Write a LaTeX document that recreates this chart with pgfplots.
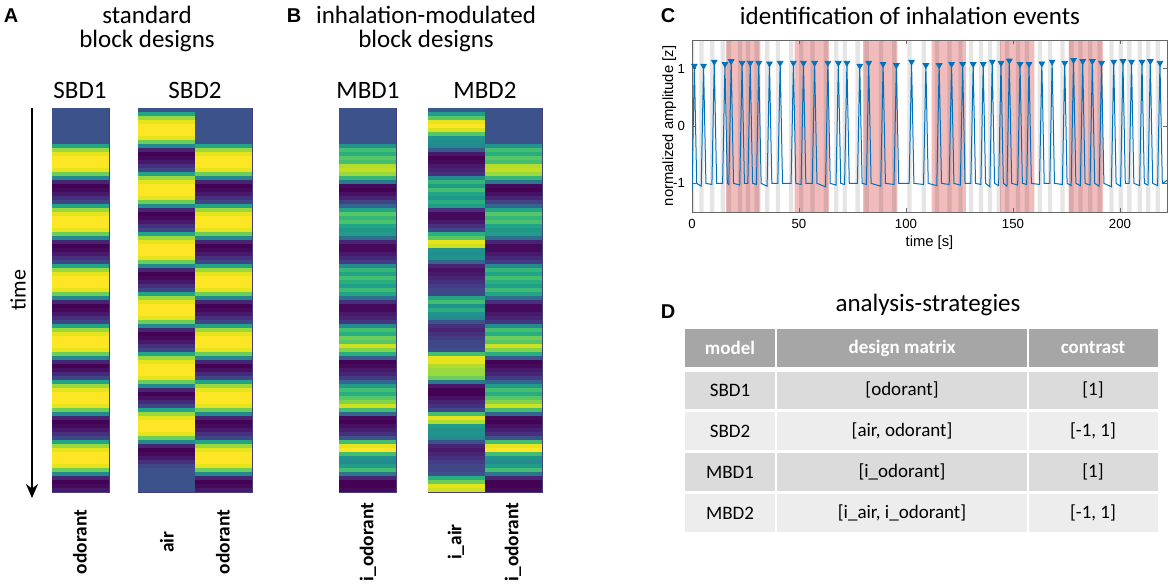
\documentclass[border=0pt]{standalone}
\usepackage{fontspec}
\setmainfont{Carlito}
\newfontfamily\arial{Liberation Sans}
\usepackage{pgfplots}
\pgfplotsset{compat=1.18}
\usepackage{pgfplotstable}
\usetikzlibrary{arrows.meta}

\newcommand\fs[1]{\fontsize{#1}{#1}\selectfont}

% one heatmap cell: 28.5pt wide, 2pt high (plus a hair of overlap)
\pgfdeclareplotmark{cell}{%
  \pgfpathrectangle{\pgfqpoint{-14.25pt}{-1.12pt}}{\pgfqpoint{28.5pt}{2.24pt}}%
  \pgfusepathqfill}

\definecolor{mblue}{rgb}{0,0.447,0.741}
\definecolor{odorred}{RGB}{242,188,188}
\definecolor{hdr}{RGB}{166,166,166}
\definecolor{rowA}{RGB}{219,219,219}
\definecolor{rowB}{RGB}{237,237,237}
\definecolor{hmline}{RGB}{70,62,120}

% design matrices, one row per scan (top = start of run)
% so = odorant (SBD), sa = air (SBD), mo = i_odorant (MBD), ma = i_air (MBD)
\pgfplotstableread{
r so sa mo ma
0 0 0 0 0.05
1 0 0.45 0 0.4
2 0 0.8 0 0.65
3 0 0.95 0 0.95
4 0 1 0 1
5 0 1 0 0.92
6 0 1 0 0.65
7 0 0.95 0 0.35
8 0 0.7 0 0.33
9 0.45 0.3 0.35 0.3
10 0.8 -0.2 0.6 0.05
11 0.95 -0.33 0.5 -0.25
12 1 -0.3 0.65 -0.33
13 1 -0.25 0.6 -0.3
14 1 -0.15 0.85 -0.25
15 0.95 -0.05 0.88 -0.2
16 0.7 0.45 0.8 -0.15
17 0.3 0.8 0.55 0.3
18 -0.2 0.95 0.2 0.55
19 -0.33 1 -0.3 0.4
20 -0.3 1 -0.33 0.6
21 -0.25 1 -0.28 0.45
22 -0.15 0.95 -0.2 0.38
23 -0.05 0.7 -0.08 0.5
24 0.45 0.3 0.1 0.4
25 0.8 -0.2 0.45 -0.15
26 0.95 -0.33 0.65 -0.3
27 1 -0.3 0.55 -0.3
28 1 -0.25 0.62 -0.25
29 1 -0.15 0.45 -0.15
30 0.95 -0.05 0.38 -0.05
31 0.7 0.45 0.4 0.5
32 0.3 0.8 0.15 0.65
33 -0.2 0.95 -0.2 0.95
34 -0.33 1 -0.3 0.9
35 -0.3 1 -0.3 0.35
36 -0.25 1 -0.25 0.32
37 -0.15 0.95 -0.18 0.35
38 -0.05 0.7 -0.1 0.1
39 0.45 0.3 0.3 -0.2
40 0.8 -0.2 0.55 -0.28
41 0.95 -0.33 0.45 -0.25
42 1 -0.3 0.6 -0.2
43 1 -0.25 0.5 -0.15
44 1 -0.15 0.42 -0.1
45 0.95 -0.05 0.58 -0.05
46 0.7 0.45 0.45 -0.05
47 0.3 0.8 0.15 0.45
48 -0.2 0.95 -0.15 0.6
49 -0.33 1 -0.3 0.35
50 -0.3 1 -0.3 0.5
51 -0.25 1 -0.25 0.35
52 -0.15 0.95 -0.2 0.3
53 -0.05 0.7 -0.12 0.0
54 0.45 0.3 0.3 -0.15
55 0.8 -0.2 0.6 -0.2
56 0.95 -0.33 0.5 -0.15
57 1 -0.3 0.7 -0.1
58 1 -0.25 0.65 -0.05
59 1 -0.15 0.9 -0.05
60 0.95 -0.05 0.75 -0.02
61 0.7 0.45 0.5 0.6
62 0.3 0.8 0.05 0.95
63 -0.2 0.95 -0.33 0.95
64 -0.33 1 -0.3 0.85
65 -0.28 1 -0.25 0.8
66 -0.18 1 -0.2 0.8
67 -0.05 0.95 -0.1 0.7
68 0.45 0.7 0.1 0.2
69 0.8 0.3 0.4 -0.25
70 0.95 -0.2 0.6 -0.33
71 1 -0.33 0.5 -0.33
72 1 -0.28 0.65 -0.28
73 1 -0.18 0.75 -0.2
74 0.95 -0.05 0.9 -0.15
75 0.7 0.45 0.6 -0.05
76 0.3 0.8 0.1 0.6
77 -0.2 0.95 -0.3 0.95
78 -0.33 1 -0.33 0.85
79 -0.3 1 -0.28 0.4
80 -0.25 1 -0.22 0.35
81 -0.15 0.95 -0.15 0.35
82 -0.05 0.7 0.0 0.3
83 0.45 0.3 0.6 0.0
84 0.8 -0.2 0.95 -0.2
85 0.95 -0.33 1.0 -0.25
86 1 -0.3 0.6 -0.2
87 1 -0.25 0.35 -0.15
88 1 -0.15 0.3 -0.1
89 0.95 -0.05 0.4 -0.05
90 0.7 0 0.6 -0.05
91 0.3 0 0.2 0.0
92 -0.2 0 -0.2 0.5
93 -0.33 0 -0.33 0.7
94 -0.3 0 -0.33 0.95
95 -0.25 0 -0.3 0.9
}\design

\pgfplotsset{
  hm/.style={scale only axis, anchor=north west, height=192pt,
    y dir=reverse, ymin=-0.5, ymax=95.5, xmin=-0.5,
    ticks=none, axis on top,
    axis line style={draw=hmline, line width=0.3pt},
    colormap/viridis, point meta min=-0.3333, point meta max=1},
  hmplot/.style={scatter, only marks, mark=cell, scatter src=explicit},
}

\begin{document}
\begin{tikzpicture}
\path[use as bounding box] (0,0) rectangle (585pt,-292.5pt);

% ---- A: standard block designs
\begin{axis}[hm, at={(26pt,-54pt)}, width=28.5pt, xmax=0.5]
\addplot[hmplot] table[x expr=0, y=r, meta=so] \design;
\end{axis}
\begin{axis}[hm, at={(69pt,-54pt)}, width=57pt, xmax=1.5]
\addplot[hmplot] table[x expr=0, y=r, meta=sa] \design;
\addplot[hmplot] table[x expr=1, y=r, meta=so] \design;
\end{axis}

% ---- B: inhalation-modulated block designs
\begin{axis}[hm, at={(169.5pt,-54pt)}, width=28.5pt, xmax=0.5]
\addplot[hmplot] table[x expr=0, y=r, meta=mo] \design;
\end{axis}
\begin{axis}[hm, at={(214pt,-54pt)}, width=57pt, xmax=1.5]
\addplot[hmplot] table[x expr=0, y=r, meta=ma] \design;
\addplot[hmplot] table[x expr=1, y=r, meta=mo] \design;
\end{axis}

% ---- C: background bands (odour blocks, inhalations)
\begin{axis}[at={(346pt,-20pt)}, anchor=north west, scale only axis,
  width=237.5pt, height=86pt, xmin=0, xmax=222, ymin=0, ymax=1, hide axis]
\addplot[ybar interval, fill=odorred, draw=none] coordinates {
(16,1)(32,0)(48,1)(64,0)(80,1)(96,0)(112,1)(128,0)(144,1)(160,0)(176,1)(192,0)(222,0)};
\addplot[ybar interval, fill=black, fill opacity=0.1, draw=none] coordinates {
(0,1)(1.1,0)(3.4,1)(5.4,0)(8.4,1)(10.4,0)(13.4,1)(15.4,0)(16.3,1)(18.3,0)
(21.4,1)(23.4,0)(25.2,1)(27.2,0)(29.2,1)(31.2,0)(34.2,1)(36.2,0)(39.2,1)(41.2,0)
(45.4,1)(47.4,0)(50.1,1)(52.1,0)(55.3,1)(57.3,0)(61.5,1)(63.5,0)(66.4,1)(68.4,0)
(70.4,1)(72.4,0)(76.4,1)(78.4,0)(80.6,1)(82.6,0)(87.3,1)(89.3,0)(93.5,1)(95.5,0)
(100.6,1)(102.6,0)(107.3,1)(109.3,0)(113.5,1)(115.5,0)(119.3,1)(121.3,0)
(124.5,1)(126.5,0)(129.4,1)(131.4,0)(134.1,1)(136.1,0)(138.3,1)(140.3,0)
(142.4,1)(144.4,0)(146.3,1)(148.3,0)(151.3,1)(153.3,0)(155.5,1)(157.5,0)
(161.5,1)(163.5,0)(166.3,1)(168.3,0)(172.2,1)(174.2,0)(176.3,1)(178.3,0)
(180.6,1)(182.6,0)(185.1,1)(187.1,0)(189.4,1)(191.4,0)(195.1,1)(197.1,0)
(199.4,1)(201.4,0)(203.4,1)(205.4,0)(208.3,1)(210.3,0)(212.2,1)(214.2,0)
(216.7,1)(218.7,0)(222,0)};
\end{axis}

% ---- C: breathing trace with detected peaks
\begin{axis}[at={(346pt,-20pt)}, anchor=north west, scale only axis,
  width=237.5pt, height=86pt, xmin=0, xmax=222, ymin=-1.5, ymax=1.5,
  xtick={0,50,100,150,200}, xticklabels={0,50,100,150,200},
  ytick={-1,0,1}, yticklabels={-1,0,1},
  tick align=inside, major tick length=2.2pt,
  axis line style={draw=black!60, line width=0.4pt},
  every tick/.style={black!60, line width=0.4pt},
  ticklabel style={font=\arial\fs{6.6pt}},
  xlabel={time [s]}, ylabel={normalized amplitude [z]},
  label style={font=\arial\fs{7.4pt}},
  xlabel style={at={(axis description cs:0.5,-0.18)}, anchor=center},
  ylabel style={at={(axis description cs:-0.048,0.5)}, anchor=center}]
\addplot[mblue, line width=0.5pt, mark=none] coordinates {
(0,-1.12)(1.1,1.05)(2.2,-1.0)
(4.3,-1.05)(5.4,1.05)(6.5,-1.0)
(9.3,-1.02)(10.4,1.12)(11.5,-1.0)
(14.3,-1.0)(15.4,1.08)(16.5,-1.0)
(17.2,-1.02)(18.3,1.13)(19.4,-1.0)
(22.3,-1.03)(23.4,1.10)(24.5,-1.0)
(26.1,-1.0)(27.2,1.10)(28.3,-1.0)
(30.1,-1.02)(31.2,1.10)(32.3,-1.0)
(35.1,-1.05)(36.2,1.09)(37.3,-1.0)
(40.1,-1.0)(41.2,1.10)(42.3,-1.0)
(46.3,-1.0)(47.4,1.10)(48.5,-1.0)
(51.0,-1.02)(52.1,1.10)(53.2,-1.0)
(56.2,-1.0)(57.3,1.10)(58.4,-1.0)
(62.4,-1.06)(63.5,1.10)(64.6,-1.0)
(67.3,-1.03)(68.4,1.10)(69.5,-1.0)
(71.3,-1.02)(72.4,1.10)(73.5,-1.0)
(77.3,-1.0)(78.4,1.05)(79.5,-1.0)
(81.5,-1.02)(82.6,1.10)(83.7,-1.0)
(88.2,-1.05)(89.3,1.08)(90.4,-1.0)
(94.4,-1.02)(95.5,1.06)(96.6,-1.0)
(101.5,-1.0)(102.6,1.12)(103.7,-1.0)
(108.2,-1.02)(109.3,1.06)(110.4,-1.0)
(114.4,-1.04)(115.5,1.06)(116.6,-1.0)
(120.2,-1.02)(121.3,1.08)(122.4,-1.0)
(125.4,-1.03)(126.5,1.08)(127.6,-1.0)
(130.3,-1.0)(131.4,1.08)(132.5,-1.0)
(135.0,-1.02)(136.1,1.08)(137.2,-1.0)
(139.2,-1.06)(140.3,1.12)(141.4,-1.0)
(143.3,-1.04)(144.4,1.10)(145.5,-1.0)
(147.2,-1.05)(148.3,1.14)(149.4,-1.0)
(152.2,-1.03)(153.3,1.08)(154.4,-1.0)
(156.4,-1.02)(157.5,1.08)(158.6,-1.0)
(162.4,-1.02)(163.5,1.09)(164.6,-1.0)
(167.2,-1.0)(168.3,1.12)(169.4,-1.0)
(173.1,-1.02)(174.2,1.10)(175.3,-1.0)
(177.2,-1.04)(178.3,1.15)(179.4,-1.0)
(181.5,-1.04)(182.6,1.13)(183.7,-1.0)
(186.0,-1.03)(187.1,1.13)(188.2,-1.0)
(190.3,-1.05)(191.4,1.10)(192.5,-1.0)
(196.0,-1.06)(197.1,1.12)(198.2,-1.0)
(200.3,-1.05)(201.4,1.13)(202.5,-1.0)
(204.3,-1.0)(205.4,1.12)(206.5,-1.0)
(209.2,-1.04)(210.3,1.12)(211.4,-1.0)
(213.1,-1.03)(214.2,1.13)(215.3,-1.0)
(217.6,-1.04)(218.7,1.10)(219.8,-1.0)
(222,-0.95)};
\addplot[only marks, mark=triangle*, mark size=1.6pt,
  mark options={rotate=180, fill=mblue, draw=mblue}] coordinates {
(1.1,1.05)(5.4,1.05)(10.4,1.12)(15.4,1.08)(18.3,1.13)(23.4,1.10)(27.2,1.10)
(31.2,1.10)(36.2,1.09)(41.2,1.10)(47.4,1.10)(52.1,1.10)(57.3,1.10)(63.5,1.10)
(68.4,1.10)(72.4,1.10)(78.4,1.05)(82.6,1.10)(89.3,1.08)(95.5,1.06)(102.6,1.12)
(109.3,1.06)(115.5,1.06)(121.3,1.08)(126.5,1.08)(131.4,1.08)(136.1,1.08)
(140.3,1.12)(144.4,1.10)(148.3,1.14)(153.3,1.08)(157.5,1.08)(163.5,1.09)
(168.3,1.12)(174.2,1.10)(178.3,1.15)(182.6,1.13)(187.1,1.13)(191.4,1.10)
(197.1,1.12)(201.4,1.13)(205.4,1.12)(210.3,1.12)(214.2,1.13)(218.7,1.10)};
\end{axis}

% ---- texts and table, in pixel units of the reference (y downwards)
\begin{scope}[x=0.5pt, y=-0.5pt]
\node[font=\arial\bfseries\fs{10pt}] at (11,16) {A};
\node[font=\arial\bfseries\fs{10pt}] at (294,16) {B};
\node[font=\arial\bfseries\fs{10pt}] at (668,16) {C};
\node[font=\arial\bfseries\fs{10pt}] at (668,312) {D};

\begin{scope}[every node/.style={font=\fs{12.5pt}, inner sep=0pt}]
\node at (147,15) {standard};
\node at (147,41) {block designs};
\node at (426,15) {inhalation-modulated};
\node at (426,41) {block designs};
\node at (80,90) {SBD1};
\node at (195,90) {SBD2};
\node at (368,90) {MBD1};
\node at (485,90) {MBD2};
\end{scope}

\draw[line width=0.8pt, -{Stealth[length=7pt, width=6pt]}] (32,108) -- (32,498);
\node[font=\fs{11pt}, rotate=90] at (18,290) {time};

\begin{scope}[every node/.style={font=\bfseries\fs{9.7pt}, rotate=90}]
\node at (80,542) {odorant};
\node at (167,542) {air};
\node at (223,542) {odorant};
\node at (368,542) {i\_odorant};
\node at (456,542) {i\_air};
\node at (513,542) {i\_odorant};
\end{scope}

\node[font=\fs{12.5pt}] at (910,16) {identification of inhalation events};
\node[font=\fs{12.5pt}] at (928,305) {analysis-strategies};

\fill[hdr] (685,329) rectangle (775,367);
\fill[hdr] (777,329) rectangle (1027,367);
\fill[hdr] (1029,329) rectangle (1158,367);
\foreach \ya/\yb/\c in {372/409/rowA, 412/450/rowB, 453/491/rowA, 494/532/rowB}{
  \fill[\c] (685,\ya) rectangle (775,\yb);
  \fill[\c] (777,\ya) rectangle (1027,\yb);
  \fill[\c] (1029,\ya) rectangle (1158,\yb);
}
\begin{scope}[every node/.style={font=\bfseries\fs{9.5pt}, text=white}]
\node at (730,348) {model};
\node at (902,348) {design matrix};
\node at (1093,348) {contrast};
\end{scope}
\begin{scope}[every node/.style={font=\fs{9.5pt}}]
\node at (730,390) {SBD1};  \node at (902,390) {[odorant]};            \node at (1093,390) {[1]};
\node at (730,431) {SBD2};  \node at (902,431) {[air, odorant]};       \node at (1093,431) {[-1, 1]};
\node at (730,472) {MBD1};  \node at (902,472) {[i\_odorant]};         \node at (1093,472) {[1]};
\node at (730,513) {MBD2};  \node at (902,513) {[i\_air, i\_odorant]}; \node at (1093,513) {[-1, 1]};
\end{scope}
\end{scope}
\end{tikzpicture}
\end{document}
